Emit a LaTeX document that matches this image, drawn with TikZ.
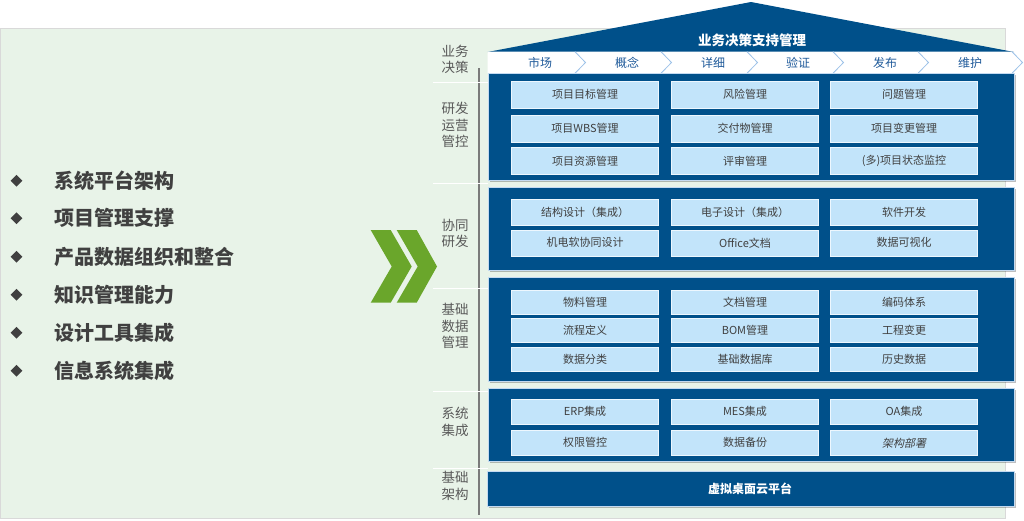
\documentclass[tikz,border=0pt]{standalone}
\usepackage{fontspec}
\setmainfont{Noto Sans CJK SC}
\newfontfamily\slantfont[FakeSlant=0.2]{Noto Sans CJK SC}
\usetikzlibrary{shapes.geometric,shadows}
\definecolor{deepblue}{HTML}{00508A}
\definecolor{cellblue}{HTML}{C2E4FA}
\definecolor{paleblue}{HTML}{9CC2E8}
\definecolor{bggreen}{HTML}{E8F3E8}
\definecolor{arrowgreen}{HTML}{6AA62B}
\definecolor{inkgray}{HTML}{404040}
\definecolor{labelgray}{HTML}{595959}
\definecolor{stepblue}{HTML}{1F5A9A}
\tikzset{
    layer/.style={fill=deepblue, draw=paleblue!60!white, line width=0.8pt,
        drop shadow={shadow xshift=1.5pt, shadow yshift=-1.5pt, fill=black, opacity=0.25}},
    cell/.style={fill=cellblue, draw=white!70!cellblue, line width=0.6pt, minimum width=147pt,
        inner sep=0pt, text=inkgray, font=\fontsize{11}{13}\selectfont},
    sidelabel/.style={align=center, text=labelgray, font=\fontsize{13.5}{16.5}\selectfont},
    stage/.style={text=stepblue, font=\fontsize{12}{14}\selectfont},
    bullet/.style={diamond, fill=inkgray, inner sep=0pt, minimum size=12pt},
    point/.style={anchor=west, text=inkgray, font=\fontsize{20}{24}\selectfont\bfseries},
    headline/.style={text=white, font=\fontsize{13.5}{16}\selectfont\bfseries},
}
\begin{document}
\begin{tikzpicture}[x=1pt,y=-1pt]
    \useasboundingbox (0,0) rectangle (1024,520);
    \filldraw[fill=bggreen, draw=black!15] (0,28) rectangle (1005.5,518.5);

    \fill[deepblue] (487.5,52) -- (751,2) -- (1014,52) -- cycle;
    \node[headline] (roof) at (752,40) {业务决策支持管理};
    \fill[white] (487.5,51.7) -- (1012,51.7) -- (1022,62.5) -- (1012,73.3) -- (487.5,73.3) -- cycle;
    \foreach \x in {575,661,747,833,918,1012}
        \draw[paleblue, line width=0.8pt] (\x,51.7) -- (\x+10.5,62.5) -- (\x,73.3);
    \foreach \x/\t [count=\i] in {540/市场, 627/概念, 713/详细, 798/验证, 885/发布, 970/维护}
        \node[stage] (stage\i) at (\x,63) {\t};

    \draw[labelgray!80, line width=1.2pt] (479,68) -- (479,515);
    \foreach \y in {82.3,183.3,288.3,391.7,468.3}
        \draw[white, line width=1.2pt] (433,\y) -- (488,\y);
    \node[sidelabel] (side1) at (455,59.5) {业务\\决策};
    \node[sidelabel] (side2) at (455,125) {研发\\运营\\管控};
    \node[sidelabel] (side3) at (455,233.3) {协同\\研发};
    \node[sidelabel] (side4) at (455,326) {基础\\数据\\管理};
    \node[sidelabel] (side5) at (455,421.7) {系统\\集成};
    \node[sidelabel] (side6) at (455,486) {基础\\架构};

    \path[layer] (488,73.3) rectangle (1014,180);
    \path[layer] (488,187.3) rectangle (1014.5,270);
    \path[layer] (488,277.7) rectangle (1014.5,381.7);
    \path[layer] (488,388.3) rectangle (1014.5,461.7);
    \path[layer] (487.6,471.7) rectangle (1014.6,506.7);
    \node[headline, font=\fontsize{12}{14}\selectfont\bfseries] (cloud) at (750,489) {虚拟桌面云平台};

    \foreach \x/\y/\t [count=\i] in {585/94.5/项目目标管理, 745/94.5/风险管理, 904/94.5/问题管理,
            585/128.5/项目WBS管理, 745/128.5/交付物管理, 904/128.5/项目变更管理,
            585/161/项目资源管理, 745/161/评审管理, 904/161/(多)项目状态监控}
        \node[cell, minimum height=27pt] (plan\i) at (\x,\y) {\t};
    \foreach \x/\y/\t [count=\i] in {585/212/结构设计（集成）, 745/212/电子设计（集成）, 904/212/软件开发,
            585/242.8/机电软协同设计, 745/242.8/Office文档, 904/242.8/数据可视化}
        \node[cell, minimum height=26pt] (team\i) at (\x,\y) {\t};
    \foreach \x/\y/\t [count=\i] in {585/302.2/物料管理, 745/302.2/文档管理, 904/302.2/编码体系,
            585/330.3/流程定义, 745/330.3/BOM管理, 904/330.3/工程变更,
            585/359.2/数据分类, 745/359.2/基础数据库, 904/359.2/历史数据}
        \node[cell, minimum height=24.5pt] (data\i) at (\x,\y) {\t};
    \foreach \x/\y/\t [count=\i] in {585/411.8/ERP集成, 745/411.8/MES集成, 904/411.8/OA集成,
            585/442.8/权限管控, 745/442.8/数据备份, 904/442.8/{\slantfont 架构部署}}
        \node[cell, minimum height=25.5pt] (link\i) at (\x,\y) {\t};

    \fill[arrowgreen] (370.7,230) -- (390.7,230) -- (411.7,266.5) -- (390.7,302.7)
        -- (370.7,302.7) -- (391.7,266.5) -- cycle;
    \fill[arrowgreen] (396.7,230) -- (416.7,230) -- (437,266.5) -- (416.7,302.7)
        -- (396.7,302.7) -- (417.7,266.5) -- cycle;

    \foreach \y/\t [count=\i] in {180.7/系统平台架构, 218.3/项目管理支撑, 256.7/产品数据组织和整合,
            294.7/知识管理能力, 332.7/设计工具集成, 370.7/信息系统集成} {
        \node[bullet] (dot\i) at (16.5,\y) {};
        \node[point] (item\i) at (51,\y) {\t};
    }
\end{tikzpicture}
\end{document}
